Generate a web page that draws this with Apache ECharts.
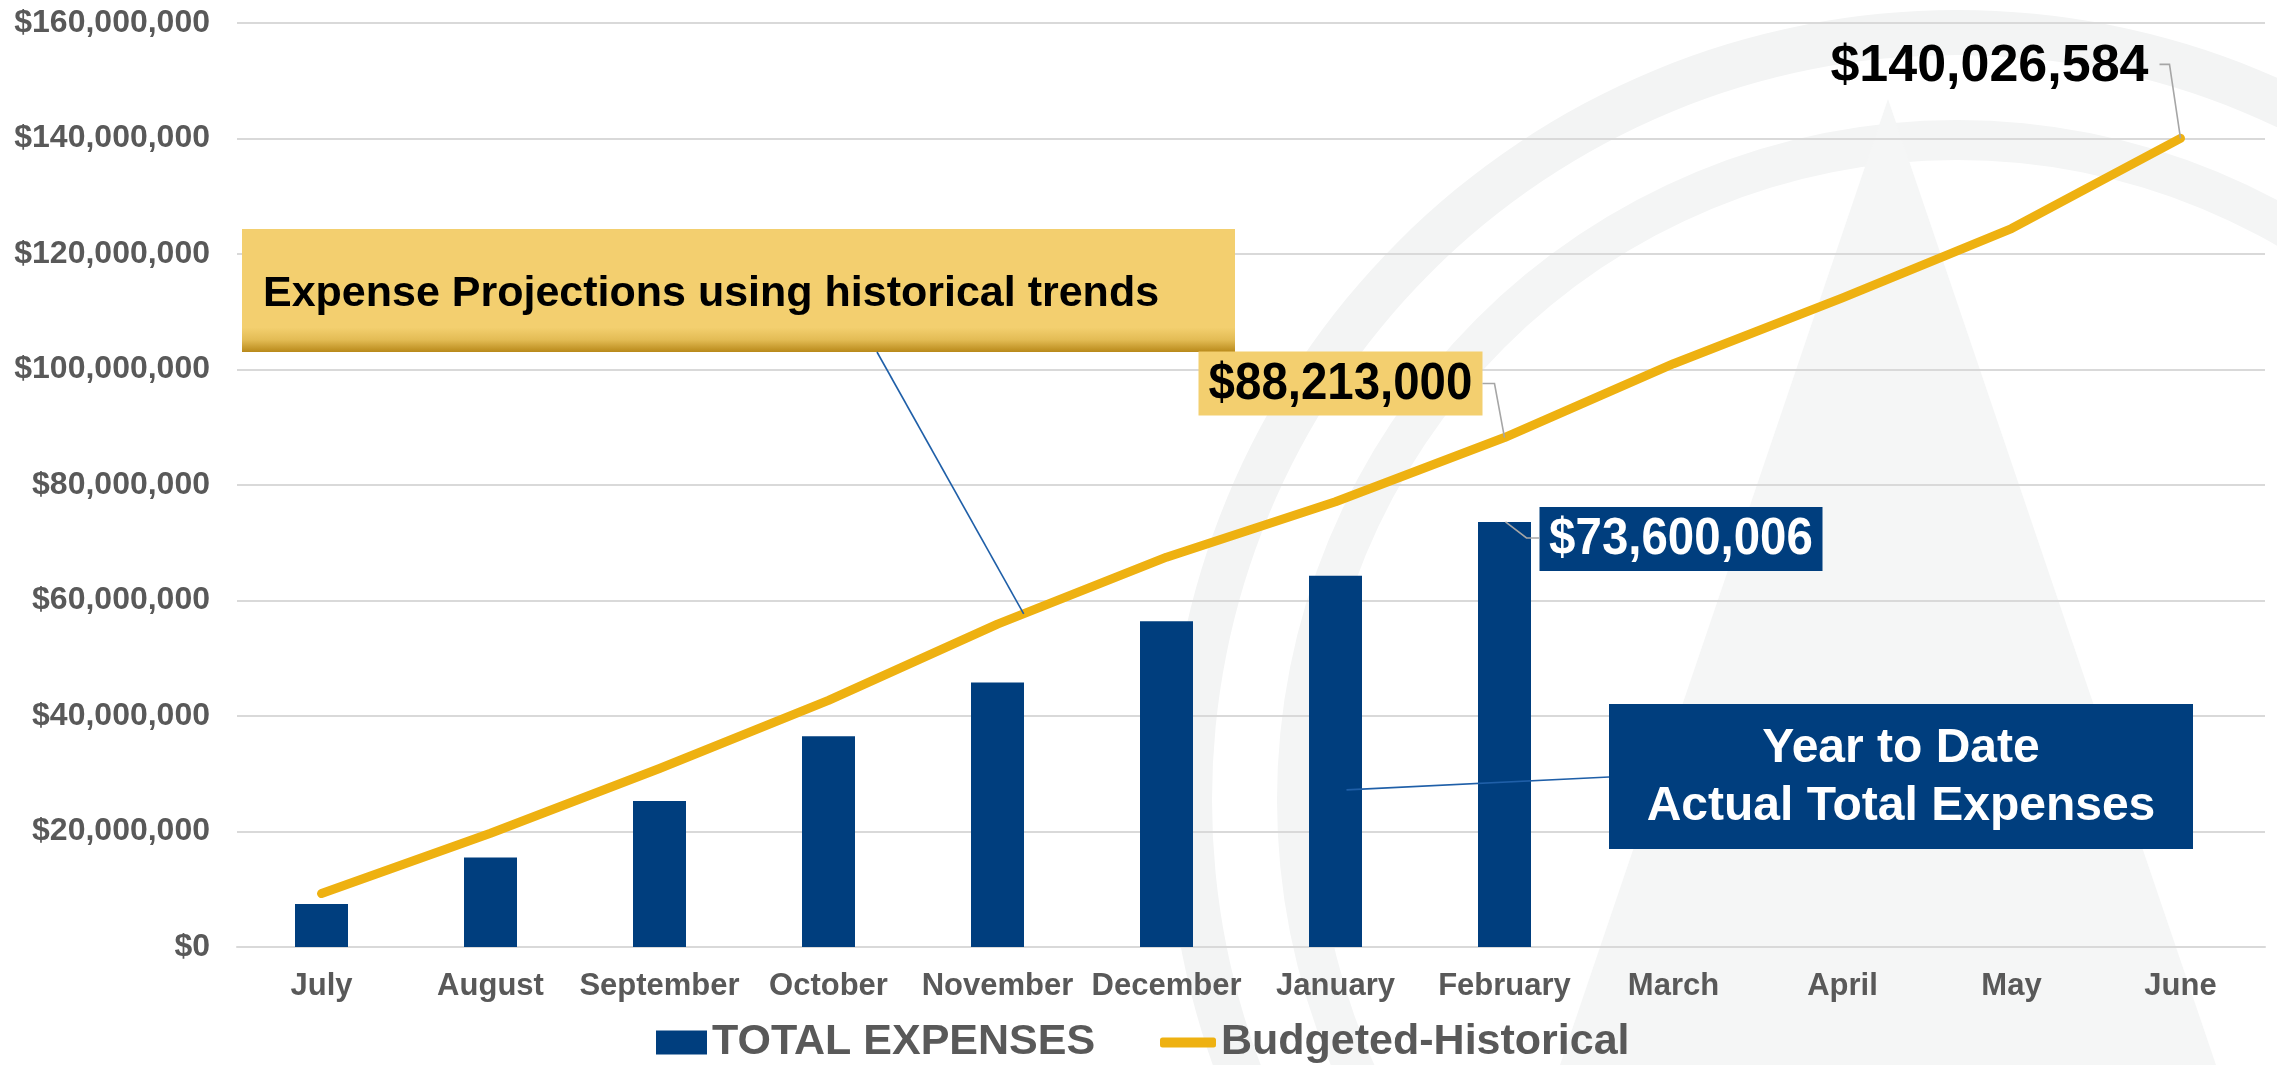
<!DOCTYPE html>
<html>
<head>
<meta charset="utf-8">
<script src="https://cdn.jsdelivr.net/npm/echarts@6/dist/echarts.min.js"></script>
<style>
  html, body { margin: 0; padding: 0; background: #ffffff; }
  #chart { width: 2277px; height: 1065px; }
</style>
</head>
<body>
<div id="chart"></div>
<script>
const months = ['July', 'August', 'September', 'October', 'November', 'December', 'January', 'February', 'March', 'April', 'May', 'June'];
const totalExpenses = [7450000, 15500000, 25300000, 36500000, 45800000, 56400000, 64300000, 73600006, null, null, null, null];
const budgetedHistorical = [9250000, 19700000, 30900000, 42700000, 55900000, 67500000, 77100000, 88213000, 101000000, 112400000, 124400000, 140026584];
const yTicks = { min: 0, max: 160000000, interval: 20000000 };
const projectionText = 'Expense Projections using historical trends';
const ytdText = 'Year to Date\nActual Total Expenses';

const FONT = '"Liberation Sans", Arial, Helvetica, sans-serif';
const NAVY = '#003e7e';
const GOLD = '#eeb111';
const LIGHTGOLD = '#f3cf6f';
const GRID = '#d9d9d9';
const AXISTXT = '#595959';

function money(v) { return '$' + Math.round(v).toLocaleString('en-US'); }

const chart = echarts.init(document.getElementById('chart'));

const option = {
  animation: false,
  backgroundColor: '#ffffff',
  textStyle: { fontFamily: FONT },
  grid: { left: 237, right: 12, top: 23, bottom: 118, containLabel: false },
  xAxis: {
    type: 'category',
    data: months,
    axisLine: { show: true, lineStyle: { color: GRID, width: 2 } },
    axisTick: { show: false },
    axisLabel: { color: AXISTXT, fontSize: 31, fontWeight: 'bold', fontFamily: FONT, margin: 24, interval: 0 }
  },
  yAxis: {
    type: 'value',
    min: yTicks.min, max: yTicks.max, interval: yTicks.interval,
    axisLine: { show: false },
    axisTick: { show: false },
    splitLine: { lineStyle: { color: GRID, width: 2 } },
    axisLabel: { color: AXISTXT, fontSize: 32, fontWeight: 'bold', fontFamily: FONT, margin: 27, formatter: money }
  },
  legend: [
    {
      data: [{ name: 'TOTAL EXPENSES', icon: 'rect' }],
      left: 656, top: 1021, padding: 0,
      itemWidth: 51, itemHeight: 24,
      textStyle: { color: AXISTXT, fontSize: 43, fontWeight: 'bold', fontFamily: FONT },
      selectedMode: false
    },
    {
      data: [{ name: 'Budgeted-Historical', icon: 'roundRect' }],
      left: 1160, top: 1021, padding: 0,
      itemWidth: 56, itemHeight: 10,
      textStyle: { color: AXISTXT, fontSize: 43, fontWeight: 'bold', fontFamily: FONT },
      selectedMode: false
    }
  ],
  series: [
    {
      name: 'TOTAL EXPENSES',
      type: 'bar',
      data: totalExpenses,
      barWidth: 53,
      itemStyle: { color: NAVY },
      z: 3
    },
    {
      name: 'Budgeted-Historical',
      type: 'line',
      data: budgetedHistorical,
      symbol: 'none',
      smooth: false,
      itemStyle: { color: GOLD },
      lineStyle: { color: GOLD, width: 9, cap: 'round', join: 'round' },
      z: 4
    }
  ]
};

chart.setOption(option);

// Annotation positions derived from the chart's own scales
const px = (i, v) => chart.convertToPixel({ gridIndex: 0 }, [i, v]);
const feb = 7, jun = 11, nov = 4, dec = 5, jan = 6;
const pFebLine = px(feb, budgetedHistorical[feb]);
const pJunLine = px(jun, budgetedHistorical[jun]);
const pFebBar = px(feb, totalExpenses[feb]);
const pNov = px(nov, budgetedHistorical[nov]);
const pDec = px(dec, budgetedHistorical[dec]);
const t = 0.155;
const pProj = [pNov[0] + (pDec[0] - pNov[0]) * t, pNov[1] + (pDec[1] - pNov[1]) * t];
const pJanBar = px(jan, 27200000);

const graphics = [];

// faint watermark logo
graphics.push(
  { type: 'sector', z: -100, silent: true, shape: { cx: 1957, cy: 800, r0: 745, r: 790, startAngle: 0, endAngle: Math.PI * 2 }, style: { fill: '#f3f4f4' } },
  { type: 'sector', z: -100, silent: true, shape: { cx: 1957, cy: 800, r0: 640, r: 680, startAngle: 0, endAngle: Math.PI * 2 }, style: { fill: '#f4f5f5' } },
  { type: 'polygon', z: -100, silent: true, shape: { points: [[1888, 99], [1560, 1065], [2216, 1065]] }, style: { fill: '#f5f6f6' } }
);

// Projection callout
graphics.push(
  {
    type: 'rect', z: 50,
    shape: { x: 242, y: 229, width: 993, height: 123 },
    style: {
      fill: new echarts.graphic.LinearGradient(0, 0, 0, 1, [
        { offset: 0, color: LIGHTGOLD },
        { offset: 0.8, color: LIGHTGOLD },
        { offset: 0.9, color: '#e3bc55' },
        { offset: 1, color: '#b8891a' }
      ])
    }
  },
  {
    type: 'text', z: 51,
    style: { text: projectionText, x: 263, y: 294, fill: '#000000', font: 'bold 43px ' + FONT, align: 'left', verticalAlign: 'middle', textAlign: 'left', textVerticalAlign: 'middle' }
  },
  {
    type: 'line', z: 51,
    shape: { x1: 877, y1: 352, x2: pProj[0], y2: pProj[1] },
    style: { stroke: '#1f5fa8', lineWidth: 1.6 }
  }
);

// $88,213,000 label (Feb budget point)
const b88 = { x: pFebLine[0] - 306, y: pFebLine[1] - 86, w: 284, h: 64 };
graphics.push(
  { type: 'rect', z: 50, shape: { x: b88.x, y: b88.y, width: b88.w, height: b88.h }, style: { fill: LIGHTGOLD } },
  {
    type: 'text', z: 51, x: b88.x + b88.w / 2, y: b88.y + b88.h / 2 + 1, scaleX: 0.93,
    style: { text: money(budgetedHistorical[feb]), x: 0, y: 0, fill: '#000000', font: 'bold 51px ' + FONT, align: 'center', verticalAlign: 'middle', textAlign: 'center', textVerticalAlign: 'middle' }
  },
  {
    type: 'polyline', z: 51,
    shape: { points: [[b88.x + b88.w, b88.y + b88.h / 2], [pFebLine[0] - 10, b88.y + b88.h / 2], [pFebLine[0], pFebLine[1]]] },
    style: { stroke: '#a6a6a6', lineWidth: 1.6, fill: null }
  }
);

// $73,600,006 label (Feb bar)
const b73 = { x: pFebBar[0] + 35, y: pFebBar[1] - 15, w: 283, h: 64 };
graphics.push(
  { type: 'rect', z: 50, shape: { x: b73.x, y: b73.y, width: b73.w, height: b73.h }, style: { fill: NAVY } },
  {
    type: 'text', z: 51, x: b73.x + b73.w / 2, y: b73.y + b73.h / 2 + 1, scaleX: 0.93,
    style: { text: money(totalExpenses[feb]), x: 0, y: 0, fill: '#ffffff', font: 'bold 51px ' + FONT, align: 'center', verticalAlign: 'middle', textAlign: 'center', textVerticalAlign: 'middle' }
  },
  {
    type: 'polyline', z: 51,
    shape: { points: [[b73.x, b73.y + 31], [pFebBar[0] + 22, b73.y + 31], [pFebBar[0] + 1, pFebBar[1]]] },
    style: { stroke: '#a6a6a6', lineWidth: 1.6, fill: null }
  }
);

// $140,026,584 label (June)
graphics.push(
  {
    type: 'text', z: 51, x: pJunLine[0] - 32, y: pJunLine[1] - 72,
    style: { text: money(budgetedHistorical[jun]), x: 0, y: 0, fill: '#000000', font: 'bold 52px ' + FONT, align: 'right', verticalAlign: 'middle', textAlign: 'right', textVerticalAlign: 'middle' }
  },
  {
    type: 'polyline', z: 51,
    shape: { points: [[pJunLine[0] - 21, pJunLine[1] - 74], [pJunLine[0] - 11, pJunLine[1] - 74], [pJunLine[0], pJunLine[1]]] },
    style: { stroke: '#a6a6a6', lineWidth: 1.6, fill: null }
  }
);

// Year to Date callout
graphics.push(
  { type: 'rect', z: 50, shape: { x: 1609, y: 704, width: 584, height: 145 }, style: { fill: NAVY } },
  {
    type: 'text', z: 51,
    style: { text: ytdText, x: 1901, y: 778, fill: '#ffffff', font: 'bold 48px ' + FONT, lineHeight: 58, align: 'center', verticalAlign: 'middle', textAlign: 'center', textVerticalAlign: 'middle' }
  },
  {
    type: 'line', z: 51,
    shape: { x1: 1609, y1: 777, x2: pJanBar[0] + 11, y2: pJanBar[1] },
    style: { stroke: '#1f5fa8', lineWidth: 1.6 }
  }
);

chart.setOption({ graphic: graphics });
</script>
</body>
</html>
